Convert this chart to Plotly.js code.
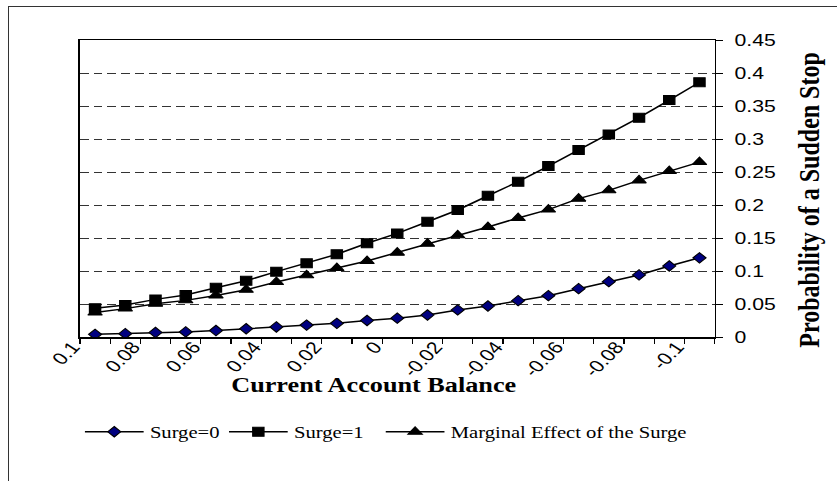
<!DOCTYPE html>
<html>
<head>
<meta charset="utf-8">
<script src="https://cdn.plot.ly/plotly-3.0.1.min.js"></script>
<style>
  html, body { margin: 0; padding: 0; background: #fff; overflow: hidden; }
  #plot { position: absolute; left: 0; top: 0; width: 670px; height: 481px;
          transform: scaleX(1.2493); transform-origin: 0 0; }
  #frame { position: absolute; left: 8px; top: 6px; width: 900px; height: 600px;
           border: 1px solid #333; pointer-events: none; }
</style>
</head>
<body>
<div id="plot"></div>
<div id="frame"></div>
<script>
// Current account balance (categories, left to right)
const balance = [0.1, 0.09, 0.08, 0.07, 0.06, 0.05, 0.04, 0.03, 0.02, 0.01, 0,
                 -0.01, -0.02, -0.03, -0.04, -0.05, -0.06, -0.07, -0.08, -0.09, -0.1];
const surge0 = [0.004, 0.005, 0.0068, 0.0077, 0.0098, 0.0125, 0.0152, 0.018, 0.0207, 0.025, 0.0285,
                0.0333, 0.041, 0.047, 0.055, 0.0626, 0.0732, 0.0838, 0.094, 0.1076, 0.120];
const surge1 = [0.0435, 0.0485, 0.057, 0.0636, 0.0747, 0.0853, 0.099, 0.1116, 0.1253, 0.142, 0.157,
                0.1747, 0.1924, 0.214, 0.2353, 0.259, 0.2833, 0.307, 0.3323, 0.359, 0.386];
const marginal = [0.037, 0.043, 0.0505, 0.0555, 0.063, 0.0717, 0.0833, 0.0934, 0.1046, 0.1152, 0.1278,
                  0.1414, 0.154, 0.1667, 0.1803, 0.193, 0.2096, 0.2222, 0.2373, 0.2515, 0.265];
const xTickVals = [0.1, 0.08, 0.06, 0.04, 0.02, 0, -0.02, -0.04, -0.06, -0.08, -0.1];
const xTickText = ["0.1", "0.08", "0.06", "0.04", "0.02", "0", "-0.02", "-0.04", "-0.06", "-0.08", "-0.1"];
const yTickVals = [0, 0.05, 0.1, 0.15, 0.2, 0.25, 0.3, 0.35, 0.4, 0.45];
const yTickText = ["0", "0.05", "0.1", "0.15", "0.2", "0.25", "0.3", "0.35", "0.4", "0.45"];
const names = ["Surge=0", "Surge=1", "Marginal Effect of the Surge"];

// category boundaries for tick marks
const step = balance[0] - balance[1];
const bounds = [balance[0] + step / 2];
for (let i = 0; i < balance.length; i++) bounds.push(balance[i] - step / 2);

const lineStyle = {color: '#000', width: 1.5};
const traces = [
  {x: balance, y: surge0, name: names[0], legend: 'legend', mode: 'lines+markers', line: lineStyle,
   marker: {symbol: 'diamond', size: 8, color: '#000080', line: {color: '#000', width: 1}}},
  {x: balance, y: surge1, name: names[1], legend: 'legend2', mode: 'lines+markers', line: lineStyle,
   marker: {symbol: 'square', size: 9, color: '#000', line: {color: '#000', width: 1}}},
  {x: balance, y: marginal, name: names[2], legend: 'legend3', mode: 'lines+markers', line: lineStyle,
   marker: {symbol: 'triangle-up', size: 10, color: '#000', line: {color: '#000', width: 1}}}
];

function legendAt(xPos) {
  return {
    orientation: 'h', x: xPos, xanchor: 'left', y: -0.32, yanchor: 'middle',
    font: {family: 'Liberation Serif, Times New Roman, serif', size: 16.5, color: '#000'},
    itemwidth: 47, bgcolor: 'rgba(0,0,0,0)'
  };
}

const layout = {
  width: 670, height: 481,
  margin: {l: 64, r: 98, t: 40, b: 144},
  paper_bgcolor: 'rgba(0,0,0,0)', plot_bgcolor: '#fff',
  showlegend: true,
  font: {family: 'Liberation Sans, Arial, sans-serif', color: '#000'},
  xaxis: {
    range: [balance[0] + step / 2, balance[balance.length - 1] - step / 2],
    tickmode: 'array', tickvals: xTickVals, ticktext: xTickText,
    ticks: '', tickangle: -51, tickfont: {size: 17, family: 'Liberation Sans, Arial'},
    ticklabelshift: 18, ticklabelstandoff: -8,
    minor: {tickmode: 'array', tickvals: bounds, ticks: 'outside', ticklen: 5, tickcolor: '#000', tickwidth: 1, showgrid: false},
    showgrid: false, zeroline: false,
    showline: true, linecolor: '#000', linewidth: 1.5, mirror: true
  },
  yaxis: {
    side: 'right', range: [0, 0.45],
    tickmode: 'array', tickvals: yTickVals, ticktext: yTickText,
    ticks: 'outside', ticklen: 5, tickcolor: '#000', tickwidth: 1,
    tickfont: {size: 17, family: 'Liberation Sans, Arial'},
    ticklabelstandoff: 6,
    showgrid: true, gridcolor: '#333', gridwidth: 1, griddash: '7px,4px',
    zeroline: false,
    showline: true, linecolor: '#000', linewidth: 1.5, mirror: true
  },
  legend: legendAt(-0.002),
  legend2: legendAt(0.225),
  legend3: legendAt(0.472),
  annotations: [
    {text: '<b>Current Account Balance</b>', xref: 'paper', yref: 'paper', x: 0.462, y: -0.162,
     xanchor: 'center', yanchor: 'middle', showarrow: false,
     font: {family: 'Liberation Serif, Times New Roman, serif', size: 21, color: '#000'}},
    {text: '<b>Probability of a Sudden Stop</b>', xref: 'paper', yref: 'paper', x: 1.1476, y: 0.462,
     xanchor: 'center', yanchor: 'middle', textangle: -90, showarrow: false,
     font: {family: 'Liberation Serif, Times New Roman, serif', size: 24, color: '#000'}}
  ]
};

Plotly.newPlot('plot', traces, layout, {displayModeBar: false, staticPlot: true});
</script>
</body>
</html>
